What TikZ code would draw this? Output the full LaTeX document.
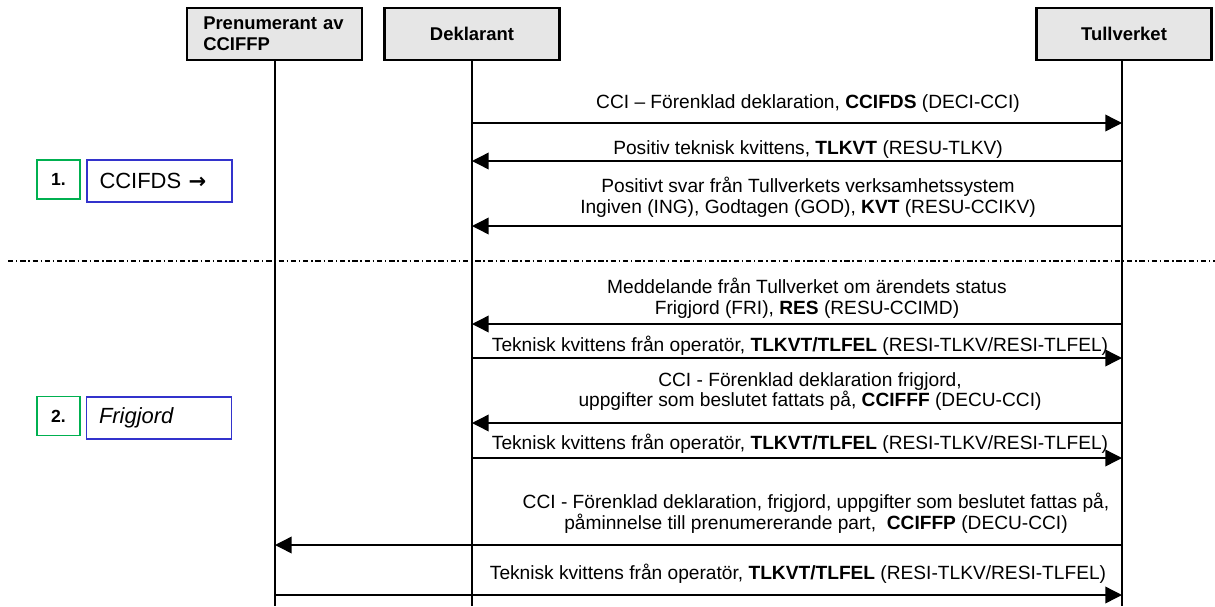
\documentclass[tikz,border=0pt]{standalone}
\usepackage{fontspec}
\setmainfont{Liberation Sans}
\newfontfamily\arrowfont{DejaVu Sans}
\usetikzlibrary{arrows.meta,positioning}
\definecolor{boxgray}{RGB}{230,230,230}
\definecolor{stepgreen}{RGB}{0,176,80}
\definecolor{stepblue}{RGB}{51,51,204}

\tikzset{
  actor/.style={rectangle, draw, line width=1.2pt, fill=boxgray, minimum width=3.5cm, minimum height=1.04cm, font=\fontsize{10.5}{12.2}\selectfont\bfseries},
  lifeline/.style={line width=0.8pt},
  msg/.style={line width=0.8pt, -{Triangle[length=9.5pt,width=9.5pt]}},
  msglabel/.style={align=center, inner sep=0pt, font=\fontsize{10.9}{11.9}\selectfont},
  stepnum/.style={draw=stepgreen, line width=0.9pt, minimum width=0.86cm, minimum height=0.78cm, font=\fontsize{10}{12}\selectfont\bfseries},
  steptext/.style={draw=stepblue, line width=0.7pt, minimum width=2.9cm, minimum height=0.84cm, text width=2.4cm, align=left, font=\fontsize{12.5}{14}\selectfont}
}

\begin{document}
\begin{tikzpicture}[x=0.02cm, y=-0.02cm]
  \useasboundingbox (0,0) rectangle (1215,606);

  % Actors
  \node[actor, text width=2.85cm, align=left] (pren) at (274.5,34) {Prenumerant av\\CCIFFP};
  \node[actor] (dek) at (472,34) {Deklarant};
  \node[actor] (tull) at (1124,34) {Tullverket};

  % Lifelines
  \coordinate (prenEnd) at (275,606);
  \coordinate (dekEnd) at (472,606);
  \coordinate (tullEnd) at (1122,606);
  \draw[lifeline] (pren.south -| prenEnd) -- (prenEnd);
  \draw[lifeline] (dek.south) -- (dekEnd);
  \draw[lifeline] (tull.south -| tullEnd) -- (tullEnd);

  % Step 1
  \node[stepnum] (s1) at (58.5,179.5) {1.};
  \node[steptext] (s1t) at (159.5,181) {CCIFDS {\arrowfont\bfseries\fontsize{12}{14}\selectfont →}};

  \node[msglabel] (m1) at (808,104) {CCI – Förenklad deklaration, \textbf{CCIFDS} (DECI-CCI)};
  \draw[msg] (dekEnd |- 0,123) -- (tullEnd |- 0,123);

  \node[msglabel] (m2) at (808,150) {Positiv teknisk kvittens, \textbf{TLKVT} (RESU-TLKV)};
  \draw[msg] (tullEnd |- 0,161) -- (dekEnd |- 0,161);

  \node[msglabel] (m3) at (808,197.5) {Positivt svar från Tullverkets verksamhetssystem\\Ingiven (ING), Godtagen (GOD), \textbf{KVT} (RESU-CCIKV)};
  \draw[msg] (tullEnd |- 0,226) -- (dekEnd |- 0,226);

  % Separator
  \draw[line width=0.6pt, dash pattern={on 3pt off 1.6pt on 0.8pt off 1.6pt}] (8,261) -- (1215,261);

  % Step 2
  \node[stepnum] (s2) at (58.5,416) {2.};
  \node[steptext, font=\fontsize{12.5}{14}\selectfont\itshape] (s2t) at (159,418) {Frigjord};

  \node[msglabel] (m4) at (807,298.5) {Meddelande från Tullverket om ärendets status\\Frigjord (FRI), \textbf{RES} (RESU-CCIMD)};
  \draw[msg] (tullEnd |- 0,324) -- (dekEnd |- 0,324);

  \node[msglabel] (m5) at (800,346) {Teknisk kvittens från operatör, \textbf{TLKVT/TLFEL} (RESI-TLKV/RESI-TLFEL)};
  \draw[msg] (dekEnd |- 0,358) -- (tullEnd |- 0,358);

  \node[msglabel] (m6) at (810,391.5) {CCI - Förenklad deklaration frigjord,\\uppgifter som beslutet fattats på, \textbf{CCIFFF} (DECU-CCI)};
  \draw[msg] (tullEnd |- 0,423) -- (dekEnd |- 0,423);

  \node[msglabel] (m7) at (800,444) {Teknisk kvittens från operatör, \textbf{TLKVT/TLFEL} (RESI-TLKV/RESI-TLFEL)};
  \draw[msg] (dekEnd |- 0,458) -- (tullEnd |- 0,458);

  \node[msglabel] (m8) at (816,513.5) {CCI - Förenklad deklaration, frigjord, uppgifter som beslutet fattas på,\\påminnelse till prenumererande part,\ \ \textbf{CCIFFP} (DECU-CCI)};
  \draw[msg] (tullEnd |- 0,545) -- (prenEnd |- 0,545);

  \node[msglabel] (m9) at (798,574) {Teknisk kvittens från operatör, \textbf{TLKVT/TLFEL} (RESI-TLKV/RESI-TLFEL)};
  \draw[msg] (prenEnd |- 0,595) -- (tullEnd |- 0,595);
\end{tikzpicture}
\end{document}
